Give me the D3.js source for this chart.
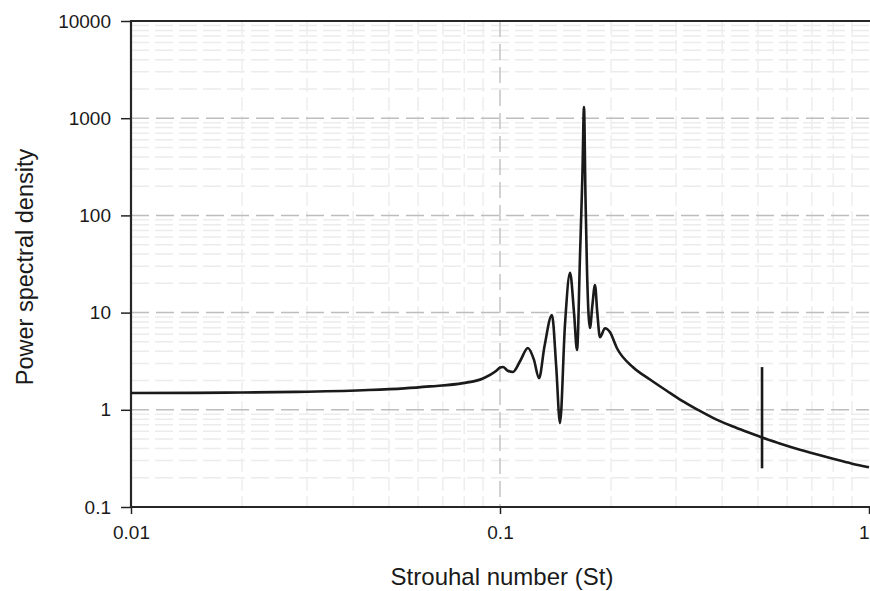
<!DOCTYPE html>
<html>
<head>
<meta charset="utf-8">
<script src="https://cdn.jsdelivr.net/npm/d3@7"></script>
<style>
  html, body { margin: 0; padding: 0; background: #fff; }
  svg { display: block; }
  text { font-family: "Liberation Sans", Arial, sans-serif; fill: #1a1a1a; }
</style>
</head>
<body>
<svg id="chart" width="870" height="591"></svg>
<script>
// Strouhal number samples (x) and power spectral density (y)
const stNumber = [
  0.01, 0.015, 0.02, 0.0282, 0.0425, 0.055, 0.0646, 0.0794, 0.0899, 0.0981,
  0.1, 0.1019, 0.1045, 0.1084, 0.1135, 0.119, 0.1235, 0.1276, 0.132, 0.1383,
  0.142, 0.1454, 0.150, 0.1548, 0.1587, 0.1617, 0.1648, 0.1672, 0.1689, 0.1705,
  0.172, 0.1753, 0.178, 0.1809, 0.1835, 0.1866, 0.1926, 0.1985, 0.2075, 0.2294,
  0.255, 0.2836, 0.31, 0.342, 0.38, 0.428, 0.47, 0.513, 0.57, 0.65,
  0.72, 0.799, 0.9, 1.0
];
const psd = [
  1.49, 1.495, 1.505, 1.53, 1.59, 1.66, 1.74, 1.88, 2.1, 2.55,
  2.72, 2.76, 2.55, 2.45, 3.2, 4.32, 3.3, 2.12, 4.5, 9.45,
  2.8, 0.73, 7.5, 25.6, 10, 4.12, 40, 250, 1303, 150,
  30, 6.95, 12, 19.2, 10, 5.6, 6.9, 6.3, 4.3, 2.74,
  2.05, 1.56, 1.25, 1.01, 0.816, 0.673, 0.587, 0.518, 0.453, 0.388,
  0.348, 0.313, 0.279, 0.256
];

// narrow spike near St = 0.51
const spikeSt = [0.513];
const spikeLow = [0.25];
const spikeHigh = [2.75];

const xTickValues = [0.01, 0.1, 1];
const xTickLabels = ["0.01", "0.1", "1"];
const yTickValues = [0.1, 1, 10, 100, 1000, 10000];
const yTickLabels = ["0.1", "1", "10", "100", "1000", "10000"];

const xTitle = "Strouhal number (St)";
const yTitle = "Power spectral density";

const svg = d3.select("#chart");
const plotLeft = 131, plotRight = 869, plotTop = 21, plotBottom = 507;

const x = d3.scaleLog().domain([0.01, 1]).range([plotLeft, plotRight]);
const y = d3.scaleLog().domain([0.1, 10000]).range([plotBottom, plotTop]);

// minor grid (2..9 within each decade)
const minorX = [], minorY = [];
[0.01, 0.1].forEach(d => { for (let k = 2; k <= 9; k++) minorX.push(d * k); });
[0.1, 1, 10, 100, 1000].forEach(d => { for (let k = 2; k <= 9; k++) minorY.push(d * k); });

const grid = svg.append("g");
grid.selectAll("line.mx").data(minorX).join("line")
  .attr("x1", d => x(d)).attr("x2", d => x(d))
  .attr("y1", plotTop).attr("y2", plotBottom)
  .attr("stroke", "#eeeeee").attr("stroke-width", 1.5)
  .attr("stroke-dasharray", "14,5");
grid.selectAll("line.my").data(minorY).join("line")
  .attr("x1", plotLeft).attr("x2", plotRight)
  .attr("y1", d => y(d)).attr("y2", d => y(d))
  .attr("stroke", "#ececec").attr("stroke-width", 1.5)
  .attr("stroke-dasharray", "18,6");

// major grid (decades)
grid.selectAll("line.Mx").data(xTickValues.slice(1, -1)).join("line")
  .attr("x1", d => x(d)).attr("x2", d => x(d))
  .attr("y1", plotTop).attr("y2", plotBottom)
  .attr("stroke", "#c4c4c4").attr("stroke-width", 1.5)
  .attr("stroke-dasharray", "16,7");
grid.selectAll("line.My").data(yTickValues.slice(1, -1)).join("line")
  .attr("x1", plotLeft).attr("x2", plotRight)
  .attr("y1", d => y(d)).attr("y2", d => y(d))
  .attr("stroke", "#bdbdbd").attr("stroke-width", 1.5)
  .attr("stroke-dasharray", "18,7");

// axes
const xAxis = d3.axisBottom(x).tickValues(xTickValues)
  .tickFormat((d, i) => xTickLabels[i]).tickSize(7).tickPadding(12);
const yAxis = d3.axisLeft(y).tickValues(yTickValues)
  .tickFormat((d, i) => yTickLabels[i]).tickSize(10).tickPadding(10);

const gx = svg.append("g").attr("transform", `translate(0,${plotBottom})`).call(xAxis);
const gy = svg.append("g").attr("transform", `translate(${plotLeft},0)`).call(yAxis);
[gx, gy].forEach(g => {
  g.select(".domain").remove();
  g.selectAll(".tick line").attr("stroke", "#222").attr("stroke-width", 1.5);
  g.selectAll(".tick text").style("font-size", "19px").attr("fill", "#1a1a1a");
});
// keep the label at the right edge inside the page
gx.selectAll(".tick text").filter(d => d === 1).attr("text-anchor", "end");

// plot frame: left, top and bottom edges
svg.append("path")
  .attr("d", `M${plotRight + 2},${plotTop}H${plotLeft}V${plotBottom}H${plotRight + 2}`)
  .attr("fill", "none").attr("stroke", "#262626").attr("stroke-width", 2.2);

// spectrum curve
const line = d3.line()
  .x((d, i) => x(stNumber[i]))
  .y(d => y(d))
  .curve(d3.curveMonotoneX);

svg.append("path")
  .datum(psd)
  .attr("d", line)
  .attr("fill", "none")
  .attr("stroke", "#1a1a1a")
  .attr("stroke-width", 2.6)
  .attr("stroke-linejoin", "round");

svg.selectAll("line.spike").data(spikeSt).join("line")
  .attr("class", "spike")
  .attr("x1", d => x(d)).attr("x2", d => x(d))
  .attr("y1", (d, i) => y(spikeHigh[i])).attr("y2", (d, i) => y(spikeLow[i]))
  .attr("stroke", "#1a1a1a").attr("stroke-width", 2.6);

// axis titles
svg.append("text")
  .attr("x", (plotLeft + plotRight) / 2 + 2).attr("y", 585)
  .attr("text-anchor", "middle")
  .style("font-size", "24px")
  .text(xTitle);

svg.append("text")
  .attr("transform", `translate(33,267) rotate(-90)`)
  .attr("text-anchor", "middle")
  .style("font-size", "23.5px")
  .text(yTitle);
</script>
</body>
</html>
